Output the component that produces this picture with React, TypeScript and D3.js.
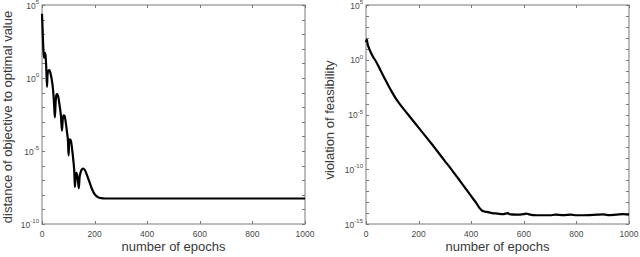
import React, { useEffect, useRef } from "react";
import * as d3 from "d3";

// left panel: distance of objective to optimal value
const leftEpochs = [0, 2, 4, 7, 10, 13, 16, 19, 21, 24, 28, 32, 37, 42, 46, 49, 52, 55, 58, 62, 67, 72, 76, 79, 82, 86, 90, 95, 99, 101, 103, 106, 110, 114, 119, 123, 125, 128, 131, 134, 137, 140, 143, 147, 152, 157, 163, 170, 180, 190, 200, 212, 225, 240, 1000];
const leftValues = [2.5e4, 3e3, 3e2, 2.5e1, 5.6e1, 4e1, 6.3, 2.5e-1, 1.6, 3.2, 3.5, 2.2, 8e-1, 1.6e-1, 1.6e-2, 2e-3, 2.5e-2, 7e-2, 7.9e-2, 5e-2, 1.3e-2, 2.5e-3, 2.5e-4, 1.6e-3, 2.8e-3, 2.5e-3, 1e-3, 2e-4, 4e-5, 5e-6, 3.2e-5, 6.3e-5, 5e-5, 1.6e-5, 2.5e-6, 3.2e-7, 3.5e-8, 2e-7, 3.2e-7, 2e-7, 8e-8, 2.8e-8, 1.6e-7, 3.5e-7, 5.6e-7, 6.3e-7, 5e-7, 2.5e-7, 8e-8, 2.5e-8, 1.1e-8, 7e-9, 5.9e-9, 5.6e-9, 5.6e-9];

// right panel: violation of feasibility
const rightEpochs = [0, 3, 6, 10, 15, 25, 38, 55, 70, 85, 100, 115, 130, 145, 160, 200, 250, 300, 326, 360, 400, 421, 432, 440, 450, 460, 480, 500, 520, 540, 545, 570, 600, 610, 620, 650, 700, 720, 750, 780, 800, 850, 880, 900, 920, 950, 980, 1000];
const rightValues = [4e1, 7e1, 2.8e1, 1.4e1, 7e0, 2.2e0, 7e-1, 1.1e-1, 2.2e-2, 4.5e-3, 1e-3, 2.5e-4, 7.9e-5, 2.8e-5, 1e-5, 6.3e-7, 2e-8, 5.6e-10, 8.9e-11, 7.1e-12, 3.5e-13, 7.1e-14, 2.8e-14, 1.8e-14, 1.4e-14, 1.26e-14, 1e-14, 8.9e-15, 7.9e-15, 1e-14, 7.9e-15, 7.1e-15, 7.9e-15, 8.9e-15, 7.6e-15, 6.3e-15, 6.3e-15, 7.1e-15, 6.6e-15, 7.1e-15, 6.3e-15, 6.6e-15, 7.1e-15, 7.6e-15, 6.6e-15, 7.1e-15, 7.9e-15, 7.1e-15];

const xTicks = [0, 200, 400, 600, 800, 1000];
const leftYExp = [-10, -5, 0, 5];
const rightYExp = [-15, -10, -5, 0, 5];

const FONT = "'Liberation Sans', Arial, Helvetica, sans-serif";

function Panel({ x0, x1, y0, y1, epochs, values, yMinExp, yMaxExp, labelExps, yLabel, yLabelX, yLabelY }) {
  const ref = useRef(null);

  useEffect(() => {
    const g = d3.select(ref.current);
    g.selectAll("*").remove();

    const xScale = d3.scaleLinear().domain([0, 1000]).range([x0, x1]);
    const yScale = d3.scaleLog().domain([Math.pow(10, yMinExp), Math.pow(10, yMaxExp)]).range([y1, y0]);

    const axisColor = "#7a7a7a";
    const textColor = "#4a4a4a";

    // box
    g.append("rect")
      .attr("x", x0).attr("y", y0)
      .attr("width", x1 - x0).attr("height", y1 - y0)
      .attr("fill", "#fff")
      .attr("stroke", axisColor)
      .attr("stroke-width", 1);

    // x ticks (inward on top and bottom)
    xTicks.forEach(t => {
      const xp = Math.round(xScale(t)) + 0.5;
      g.append("line").attr("x1", xp).attr("x2", xp).attr("y1", y1).attr("y2", y1 - 3).attr("stroke", axisColor);
      g.append("line").attr("x1", xp).attr("x2", xp).attr("y1", y0).attr("y2", y0 + 3).attr("stroke", axisColor);
      g.append("text")
        .attr("x", xScale(t))
        .attr("y", y1 + 13)
        .attr("text-anchor", "middle")
        .attr("font-family", FONT)
        .attr("font-size", 8.5)
        .attr("fill", textColor)
        .text(t);
    });

    // y ticks every decade
    const decades = d3.range(yMinExp, yMaxExp + 1);
    decades.forEach(e => {
      const yp = Math.round(yScale(Math.pow(10, e))) + 0.5;
      g.append("line").attr("x1", x0).attr("x2", x0 + 3).attr("y1", yp).attr("y2", yp).attr("stroke", axisColor);
      g.append("line").attr("x1", x1).attr("x2", x1 - 3).attr("y1", yp).attr("y2", yp).attr("stroke", axisColor);
    });

    labelExps.forEach(e => {
      const yp = yScale(Math.pow(10, e));
      const txt = g.append("text")
        .attr("x", x0 - 3)
        .attr("y", yp + 3.5)
        .attr("text-anchor", "end")
        .attr("font-family", FONT)
        .attr("font-size", 8.5)
        .attr("fill", textColor);
      txt.append("tspan").text("10");
      txt.append("tspan").attr("dy", -4.5).attr("font-size", 6).text(`${e}`);
    });

    // curve
    const pts = epochs.map((e, i) => [e, values[i]]);
    const line = d3.line()
      .x(d => xScale(d[0]))
      .y(d => yScale(d[1]))
      .curve(d3.curveMonotoneX);

    g.append("path")
      .datum(pts)
      .attr("fill", "none")
      .attr("stroke", "#000")
      .attr("stroke-width", 2.2)
      .attr("stroke-linejoin", "round")
      .attr("d", line);

    // axis labels
    g.append("text")
      .attr("x", (x0 + x1) / 2)
      .attr("y", 251)
      .attr("text-anchor", "middle")
      .attr("font-family", FONT)
      .attr("font-size", 13)
      .attr("fill", "#3a3a3a")
      .text("number of epochs");

    g.append("text")
      .attr("transform", `translate(${yLabelX},${yLabelY}) rotate(-90)`)
      .attr("text-anchor", "middle")
      .attr("font-family", FONT)
      .attr("font-size", 13)
      .attr("fill", "#3a3a3a")
      .text(yLabel);
  }, []);

  return <g ref={ref}></g>;
}

export default function App() {
  return (
    <div style={{ position: "absolute", left: 0, top: 0, width: 640, height: 257, background: "#fff" }}>
      <svg width={640} height={257}>
        <Panel x0={42} x1={305} y0={5} y1={224}
          epochs={leftEpochs} values={leftValues}
          yMinExp={-10} yMaxExp={5} labelExps={leftYExp}
          yLabel="distance of objective to optimal value" yLabelX={11.5} yLabelY={117} />
        <Panel x0={366} x1={629} y0={5} y1={224}
          epochs={rightEpochs} values={rightValues}
          yMinExp={-15} yMaxExp={5} labelExps={rightYExp}
          yLabel="violation of feasibility" yLabelX={334} yLabelY={120} />
      </svg>
    </div>
  );
}
